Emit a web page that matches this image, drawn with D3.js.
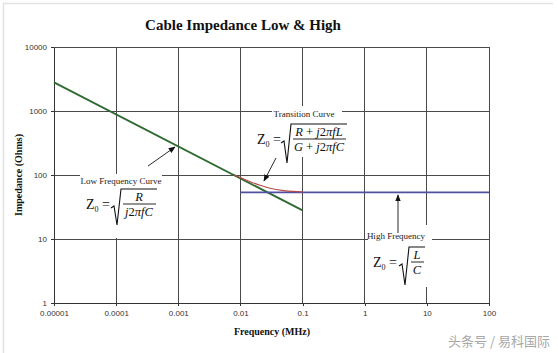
<!DOCTYPE html>
<html><head><meta charset="utf-8">
<script src="https://cdn.jsdelivr.net/npm/d3@7"></script>
<style>html,body{margin:0;padding:0;background:#fff;}svg{display:block;}</style>
</head><body>
<svg id="c" width="558" height="353"></svg>
<script>
// ---- data ----
const freqTicks = [0.00001, 0.0001, 0.001, 0.01, 0.1, 1, 10, 100];
const freqLabels = ["0.00001", "0.0001", "0.001", "0.01", "0.1", "1", "10", "100"];
const impTicks = [1, 10, 100, 1000, 10000];
const impLabels = ["1", "10", "100", "1000", "10000"];
const lowFreqF = [0.00001, 0.1];
const lowFreqZ = [2800, 28];
const highFreqF = [0.01, 100];
const highFreqZ = [53.5, 53.5];
const transF = [0.008, 0.01, 0.015, 0.02, 0.03, 0.05, 0.07, 0.1];
const transZ = [101, 91, 77, 70, 62, 57, 55.4, 54.5];

const svg = d3.select("#c");
const serif = "'Liberation Serif','Times New Roman',serif";
const sans = "'Liberation Sans',Arial,sans-serif";

// chart-area frame (faint)
svg.append("path").attr("d","M3.5,353 V3.5 H553").attr("fill","none").attr("stroke","#e2e2e2").attr("stroke-width",1.5);

const x = d3.scaleLog().domain([0.00001, 100]).range([54, 489]);
const y = d3.scaleLog().domain([1, 10000]).range([303, 47]);

// gridlines
const grid = svg.append("g").attr("stroke","#4a4a4a").attr("stroke-width",1).attr("shape-rendering","crispEdges");
freqTicks.forEach(f => grid.append("line").attr("x1",x(f)).attr("x2",x(f)).attr("y1",y(1)).attr("y2",y(10000)));
impTicks.forEach(v => grid.append("line").attr("x1",x(0.00001)).attr("x2",x(100)).attr("y1",y(v)).attr("y2",y(v)));

// axes
const xAxis = d3.axisBottom(x).tickValues(freqTicks).tickFormat((d,i)=>freqLabels[i]).tickSize(3).tickSizeOuter(0);
const yAxis = d3.axisLeft(y).tickValues(impTicks).tickFormat((d,i)=>impLabels[i]).tickSize(3).tickSizeOuter(0);
const gx = svg.append("g").attr("transform",`translate(0,${y(1)})`).call(xAxis);
const gy = svg.append("g").attr("transform",`translate(${x(0.00001)},0)`).call(yAxis);
[gx, gy].forEach(g => {
  g.select(".domain").attr("stroke","#333").attr("shape-rendering","crispEdges");
  g.selectAll(".tick line").attr("stroke","#333").attr("shape-rendering","crispEdges");
  g.selectAll(".tick text").attr("font-family",sans).attr("font-size",8).attr("fill","#333");
});
gx.selectAll(".tick text").attr("dy","0.9em");
gy.selectAll(".tick text").attr("dx","-1px");

// white annotation boxes (hide gridlines behind text)
const boxes = [[272,106,70,14],[255,120,93,37],[80,174,82,64],[368,225,64,62]];
boxes.forEach(b => svg.append("rect").attr("x",b[0]).attr("y",b[1]).attr("width",b[2]).attr("height",b[3]).attr("fill","#fff"));

// series
const line = d3.line().x(d=>x(d[0])).y(d=>y(d[1]));
svg.append("path").datum(lowFreqF.map((f,i)=>[f,lowFreqZ[i]])).attr("d",line)
  .attr("fill","none").attr("stroke","#2f6a30").attr("stroke-width",1.8);
svg.append("path").datum(highFreqF.map((f,i)=>[f,highFreqZ[i]])).attr("d",line)
  .attr("fill","none").attr("stroke","#5050a0").attr("stroke-width",1.6);
svg.append("path").datum(transF.map((f,i)=>[f,transZ[i]])).attr("d",d3.line().curve(d3.curveMonotoneX).x(d=>x(d[0])).y(d=>y(d[1])))
  .attr("fill","none").attr("stroke","#b84848").attr("stroke-width",1.1);

// arrows
const defs = svg.append("defs");
defs.append("marker").attr("id","ah").attr("viewBox","0 0 10 10").attr("refX",9).attr("refY",5)
  .attr("markerWidth",7).attr("markerHeight",7).attr("orient","auto-start-reverse").attr("markerUnits","userSpaceOnUse")
  .append("path").attr("d","M0,1 L10,5 L0,9 Z").attr("fill","#111");
function arrow(x1,y1,x2,y2){ svg.append("line").attr("x1",x1).attr("y1",y1).attr("x2",x2).attr("y2",y2)
  .attr("stroke","#111").attr("stroke-width",0.9).attr("marker-end","url(#ah)"); }
arrow(148,166,175,147);
arrow(276,158,264,181);
arrow(398,233,398,195);

// labels
function label(t,cx,cy){ svg.append("text").attr("x",cx).attr("y",cy).attr("text-anchor","middle").attr("dy","0.35em")
  .attr("font-family",serif).attr("font-size",9).attr("fill","#222").text(t); }
label("Transition Curve",304,114);
label("Low Frequency Curve",121,181);
label("High Frequency",396,236);

// formulas
function formula(zx, barY, rx, rEnd, top, bottom, num, den){
  const g = svg.append("g").attr("font-family",serif).attr("fill","#111");
  const zt = g.append("text").attr("x",zx).attr("y",barY+5).attr("font-size",14);
  zt.append("tspan").text("Z");
  zt.append("tspan").attr("font-size",8).attr("dy",3).text("0");
  zt.append("tspan").attr("dy",-3).text(" =");
  g.append("path").attr("d",`M${rx},${barY+4} L${rx+3},${barY+2} L${rx+6},${bottom} L${rx+10},${top} H${rEnd}`)
    .attr("fill","none").attr("stroke","#111").attr("stroke-width",1.1);
  const cx = (rx+10+rEnd)/2;
  g.append("line").attr("x1",rx+12).attr("x2",rEnd-1).attr("y1",barY).attr("y2",barY).attr("stroke","#111").attr("stroke-width",0.9);
  const n = g.append("text").attr("x",cx).attr("y",barY-3).attr("text-anchor","middle").attr("font-size",12.5);
  num.forEach(p => n.append("tspan").attr("font-style",p[1]?"italic":"normal").text(p[0]));
  const d = g.append("text").attr("x",cx).attr("y",barY+12).attr("text-anchor","middle").attr("font-size",12.5);
  den.forEach(p => d.append("tspan").attr("font-style",p[1]?"italic":"normal").text(p[0]));
}
formula(257,139,281,347,124,163,
  [["R",1],[" + ",0],["j",1],["2",0],["πfL",1]],
  [["G",1],[" + ",0],["j",1],["2",0],["πfC",1]]);
formula(86,204,111,157,189,225,
  [["R",1]],
  [["j",1],["2",0],["πfC",1]]);
formula(373,262,399,425,247,285,
  [["L",1]],
  [["C",1]]);

// titles
svg.append("text").attr("x",243).attr("y",25).attr("dy","0.35em").attr("text-anchor","middle")
  .attr("font-family",serif).attr("font-weight","bold").attr("font-size",15).attr("fill","#111").text("Cable Impedance Low & High");
svg.append("text").attr("x",272).attr("y",331).attr("dy","0.35em").attr("text-anchor","middle")
  .attr("font-family",serif).attr("font-weight","bold").attr("font-size",10).attr("fill","#111").text("Frequency (MHz)");
svg.append("text").attr("transform","translate(18,175) rotate(-90)").attr("dy","0.35em").attr("text-anchor","middle")
  .attr("font-family",serif).attr("font-weight","bold").attr("font-size",10).attr("fill","#111").text("Impedance (Ohms)");

// watermark
svg.append("text").attr("x",550).attr("y",341).attr("dy","0.35em").attr("text-anchor","end")
  .attr("font-family","'Noto Sans CJK SC',sans-serif").attr("font-size",13).attr("fill","#a8a8a8").text("头条号 / 易科国际");
</script>
</body></html>
